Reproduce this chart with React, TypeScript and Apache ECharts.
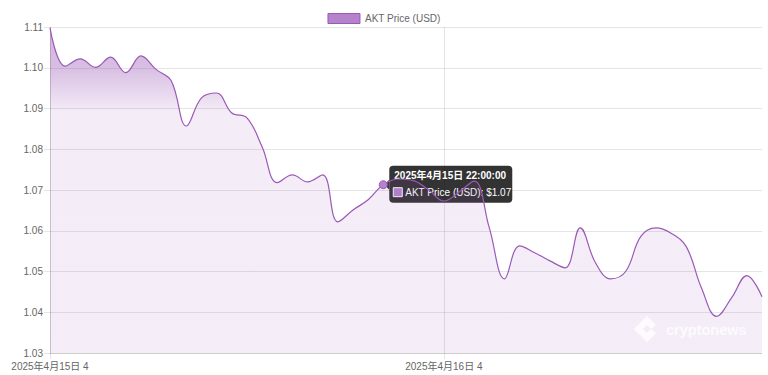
import React, { useEffect, useRef } from "react";
import * as echarts from "echarts";

const seriesName = "AKT Price (USD)";
const startDay = 15;
const pointCount = 48;
const prices = [
  1.1098, 1.1004, 1.1022, 1.1001, 1.1026, 1.0988, 1.1029, 1.0996, 1.0968, 1.0857,
  1.0926, 1.0938, 1.0889, 1.0877, 1.0806, 1.0718, 1.0737, 1.072, 1.0737, 1.0622,
  1.0651, 1.0676, 1.0713, 1.0727, 1.0723, 1.07, 1.0673, 1.0695, 1.0722, 1.0607,
  1.0482, 1.0563, 1.0546, 1.0526, 1.0509, 1.0607, 1.0522, 1.0482, 1.05, 1.0586,
  1.0607, 1.0594, 1.0561, 1.046, 1.039, 1.0436, 1.049, 1.0438,
];
const xTickIndices = [0, 26];
const xTickTexts = ["2025年4月15日 4", "2025年4月16日 4"];
const yMin = 1.03;
const yMax = 1.11;
const yStep = 0.01;
const highlightIndex = 22;

const categories: string[] = [];
for (let i = 0; i < pointCount; i++) {
  const d = startDay + Math.floor(i / 24);
  const h = String(i % 24).padStart(2, "0");
  categories.push(`2025年4月${d}日 ${h}:00:00`);
}

const FONT = '"Liberation Sans", Arial, "Noto Sans CJK SC", sans-serif';
const LINE = "#9b59b6";
const FILL = "#b583cc";
const GRID = "rgba(0,0,0,0.1)";

export default function App() {
  const ref = useRef<HTMLDivElement>(null);
  useEffect(() => {
    document.body.style.margin = "0";
    const chart = echarts.init(ref.current!, null, { renderer: "svg" });
    const showIdx = (i: number) => xTickIndices.includes(i);
    chart.setOption({
      animation: false,
      backgroundColor: "#fff",
      textStyle: { fontFamily: FONT },
      legend: {
        top: 8,
        left: "center",
        itemWidth: 32,
        itemHeight: 10,
        icon: "rect",
        itemStyle: { color: FILL, borderColor: LINE, borderWidth: 1 },
        textStyle: { color: "#666", fontSize: 10, fontFamily: FONT },
        data: [seriesName],
      },
      grid: { left: 50, right: 6, top: 27, bottom: 22 },
      xAxis: {
        type: "category",
        boundaryGap: false,
        data: categories,
        axisLine: { show: true, lineStyle: { color: GRID } },
        axisTick: { show: true, length: 6, interval: (i: number) => showIdx(i), lineStyle: { color: GRID } },
        axisLabel: {
          interval: (i: number) => showIdx(i),
          formatter: (_v: string, i: number) => {
            const k = xTickIndices.indexOf(i);
            return k >= 0 ? xTickTexts[k] : "";
          },
          color: "#666",
          fontSize: 10,
          margin: 8,
          fontFamily: FONT,
        },
        splitLine: { show: true, interval: (i: number) => showIdx(i), lineStyle: { color: GRID } },
      },
      yAxis: {
        type: "value",
        min: yMin,
        max: yMax,
        interval: yStep,
        axisLine: { show: true, lineStyle: { color: GRID } },
        axisTick: { show: true, length: 6, lineStyle: { color: GRID } },
        axisLabel: {
          formatter: (v: number) => v.toFixed(2),
          color: "#666",
          fontSize: 10,
          margin: 7,
          fontFamily: FONT,
        },
        splitLine: { show: true, lineStyle: { color: GRID } },
      },
      series: [
        {
          name: seriesName,
          type: "line",
          data: prices,
          smooth: 0.4,
          showSymbol: false,
          lineStyle: { color: LINE, width: 1.2 },
          itemStyle: { color: FILL, borderColor: LINE },
          areaStyle: {
            color: new echarts.graphic.LinearGradient(0, 0, 0, 1, [
              { offset: 0, color: "rgba(155,89,182,0.62)" },
              { offset: 0.12, color: "rgba(155,89,182,0.56)" },
              { offset: 0.26, color: "rgba(155,89,182,0.16)" },
              { offset: 1, color: "rgba(155,89,182,0.15)" },
            ]),
          },
          markPoint: {
            symbol: "circle",
            symbolSize: 8,
            itemStyle: { color: FILL, borderColor: LINE, borderWidth: 1 },
            label: { show: false },
            data: [{ coord: [categories[highlightIndex], prices[highlightIndex]] }],
          },
        },
      ],
    });

    const [px, py] = chart.convertToPixel({ gridIndex: 0 }, [highlightIndex, prices[highlightIndex]]) as number[];
    const bx = px + 6;
    const by = py - 19;
    chart.setOption({
      graphic: [
        {
          type: "group",
          z: 100,
          children: [
            {
              type: "polygon",
              shape: { points: [[bx, py - 5], [bx - 5, py], [bx, py + 5]] },
              style: { fill: "rgba(0,0,0,0.8)" },
            },
            {
              type: "rect",
              shape: { x: bx, y: by, width: 123, height: 37, r: 4 },
              style: { fill: "rgba(0,0,0,0.8)" },
            },
            {
              type: "text",
              x: bx + 5,
              y: by + 10,
              style: {
                text: categories[highlightIndex],
                fill: "#fff",
                font: `bold 10px ${FONT}`,
                verticalAlign: "middle",
              },
            },
            {
              type: "rect",
              shape: { x: bx + 4, y: by + 22, width: 9, height: 9 },
              style: { fill: FILL, stroke: "#fff", lineWidth: 1 },
            },
            {
              type: "text",
              x: bx + 16,
              y: by + 27,
              style: {
                text: `${seriesName}: $${prices[highlightIndex].toFixed(2)}`,
                fill: "#fff",
                font: `10px ${FONT}`,
                verticalAlign: "middle",
              },
            },
          ],
        },
        {
          type: "polygon",
          x: 634,
          y: 316,
          z: 50,
          shape: {
            points: [[13, 0], [22, 9], [17, 13], [13, 9], [9, 13], [13, 17], [17, 13], [22, 17], [13, 26], [0, 13]],
          },
          style: { fill: "rgba(255,255,255,0.75)" },
        },
        {
          type: "text",
          x: 666,
          y: 330,
          z: 50,
          style: {
            text: "cryptonews",
            fill: "rgba(255,255,255,0.75)",
            font: `bold 14.5px ${FONT}`,
            verticalAlign: "middle",
          },
        },
      ],
    });
    return () => chart.dispose();
  }, []);
  return <div ref={ref} style={{ position: "fixed", left: 0, top: 0, width: 768, height: 375 }} />;
}
